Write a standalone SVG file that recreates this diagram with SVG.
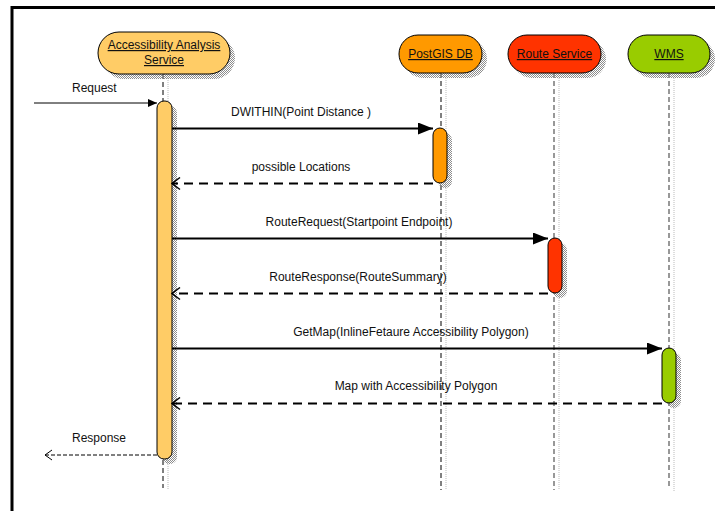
<svg xmlns="http://www.w3.org/2000/svg" width="715" height="511" viewBox="0 0 715 511">
<defs>
<pattern id="hatch" width="2" height="2" patternUnits="userSpaceOnUse">
<rect x="0" y="0" width="1" height="1" fill="#8c8c8c"/>
<rect x="1" y="1" width="1" height="1" fill="#8c8c8c"/>
</pattern>
<marker id="fill" markerWidth="16" markerHeight="12" refX="15" refY="6" orient="auto" markerUnits="userSpaceOnUse">
<path d="M0,0 L15,6 L0,12 Z" fill="#000"/>
</marker>
<marker id="fillsm" markerWidth="10" markerHeight="10" refX="9" refY="5" orient="auto" markerUnits="userSpaceOnUse">
<path d="M0,1 L9,5 L0,9 Z" fill="#000"/>
</marker>
<marker id="open" markerWidth="12" markerHeight="14" refX="10" refY="7" orient="auto" markerUnits="userSpaceOnUse">
<path d="M2,1 L10,7 L2,13" fill="none" stroke="#000" stroke-width="1.5"/>
</marker>
<marker id="opensm" markerWidth="10" markerHeight="12" refX="9" refY="6" orient="auto" markerUnits="userSpaceOnUse">
<path d="M2,1 L9,6 L2,11" fill="none" stroke="#000" stroke-width="1"/>
</marker>
</defs>
<style>
text{font-family:"Liberation Sans",Arial,sans-serif;font-size:12px;fill:#111}
.nl{text-decoration:underline;text-anchor:middle}
.pill{stroke:#000;stroke-width:1}
.shadow{fill:url(#hatch)}
.life{stroke:#000;stroke-width:1;stroke-dasharray:5,3;fill:none}
.lifeg{stroke:#777;stroke-width:1.5;stroke-dasharray:5,3;fill:none}
.lifes{stroke:#bbb;stroke-width:1;stroke-dasharray:1,1;fill:none}
.call{stroke:#000;stroke-width:2;fill:none;marker-end:url(#fill)}
.ret{stroke:#000;stroke-width:2;stroke-dasharray:9,6;fill:none;marker-end:url(#open)}
.lbl{text-anchor:middle}
</style>
<rect width="715" height="511" fill="#fff"/>
<path d="M12,511 V7.5 H715" fill="none" stroke="#000" stroke-width="3"/>

<g id="lifelines">
<path class="lifes" d="M168,78 V490"/>
<path class="life" d="M163,74 V101 M163,460 V488"/>
<path class="lifes" d="M446,78 V490"/>
<path class="life" d="M441,73 V490"/>
<path class="lifes" d="M559,78 V490"/>
<path class="lifeg" d="M554,73 V490"/>
<path class="lifes" d="M674,78 V492"/>
<path class="lifeg" d="M669,73 V488"/>
</g>

<g id="node-accessibility">
<rect class="shadow" x="103" y="37" width="132" height="42" rx="21"/>
<rect class="pill" x="98" y="32" width="132" height="42" rx="21" fill="#FFCC66"/>
<text class="nl" x="164" y="49">Accessibility Analysis</text>
<text class="nl" x="164" y="64">Service</text>
</g>
<g id="node-postgis">
<rect class="shadow" x="404" y="40" width="83" height="38" rx="19"/>
<rect class="pill" x="399" y="35" width="83" height="38" rx="19" fill="#FF9900"/>
<text class="nl" x="440.5" y="58">PostGIS DB</text>
</g>
<g id="node-route">
<rect class="shadow" x="513" y="40" width="93" height="38" rx="19"/>
<rect class="pill" x="508" y="35" width="93" height="38" rx="19" fill="#FF3300"/>
<text class="nl" x="554.5" y="58">Route Service</text>
</g>
<g id="node-wms">
<rect class="shadow" x="633" y="40" width="82" height="38" rx="19"/>
<rect class="pill" x="628" y="35" width="82" height="38" rx="19" fill="#99CC00"/>
<text class="nl" x="669" y="58">WMS</text>
</g>

<g id="activations">
<rect class="shadow" x="162" y="106" width="15" height="358" rx="7"/>
<rect class="pill" x="157" y="101" width="15" height="358" rx="7" fill="#FFCC66"/>
<rect class="shadow" x="438" y="133" width="14" height="55" rx="7"/>
<rect class="pill" x="433" y="128" width="14" height="55" rx="7" fill="#FF9900"/>
<rect class="shadow" x="553" y="243" width="14" height="55" rx="7"/>
<rect class="pill" x="548" y="238" width="14" height="55" rx="7" fill="#FF3300"/>
<rect class="shadow" x="667" y="353" width="14" height="55" rx="7"/>
<rect class="pill" x="662" y="348" width="14" height="55" rx="7" fill="#99CC00"/>
</g>

<g id="connectors">
<path d="M34,103 H157" stroke="#000" stroke-width="1" fill="none" marker-end="url(#fillsm)"/>
<text x="72" y="92">Request</text>
<path class="call" d="M172,128.5 H433"/>
<text class="lbl" x="301" y="116">DWITHIN(Point Distance )</text>
<path class="ret" d="M433,183.5 H172"/>
<text class="lbl" x="301" y="171">possible Locations</text>
<path class="call" d="M172,238.5 H548"/>
<text class="lbl" x="359" y="226">RouteRequest(Startpoint Endpoint)</text>
<path class="ret" d="M548,293.5 H172"/>
<text class="lbl" x="358" y="281">RouteResponse(RouteSummary)</text>
<path class="call" d="M172,348.5 H662"/>
<text class="lbl" x="411" y="336">GetMap(InlineFetaure Accessibility Polygon)</text>
<path class="ret" d="M662,403.5 H172"/>
<text class="lbl" x="416" y="390">Map with Accessibility Polygon</text>
<path d="M157,455 H45" stroke="#000" stroke-width="1" stroke-dasharray="4,2" fill="none" marker-end="url(#opensm)"/>
<text x="72" y="442">Response</text>
</g>
</svg>
